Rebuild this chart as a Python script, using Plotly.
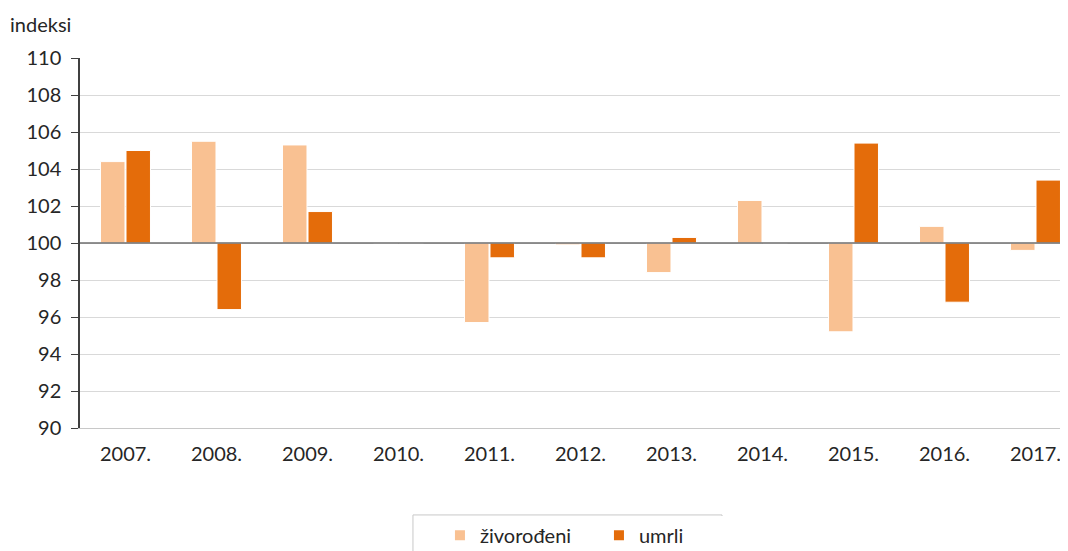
import plotly.graph_objects as go

# Indeksi (prethodna godina = 100)
years = ["2007.", "2008.", "2009.", "2010.", "2011.", "2012.",
         "2013.", "2014.", "2015.", "2016.", "2017."]
zivorodeni = [104.4, 105.5, 105.3, 100.0, 95.7, 99.9, 98.4, 102.3, 95.2, 100.9, 99.6]
umrli = [105.0, 96.4, 101.7, 100.0, 99.2, 99.2, 100.3, 100.0, 105.4, 96.8, 103.4]
base = 100

light = "#F9C192"
dark = "#E46C0A"
font = "Lato, 'Open Sans', sans-serif"

fig = go.Figure()
fig.add_trace(go.Bar(
    x=years, y=[v - base for v in zivorodeni], base=base,
    name="živorođeni", marker=dict(color=light, line=dict(color="white", width=1)),
))
fig.add_trace(go.Bar(
    x=years, y=[v - base for v in umrli], base=base,
    name="umrli", marker=dict(color=dark, line=dict(color="white", width=1)),
))

# reference line at 100
fig.add_shape(type="line", xref="paper", yref="y", x0=0, x1=1, y0=base, y1=base,
              line=dict(color="#6e6e6e", width=1.5), layer="above")

# legend frame (drawn separately so it can be wider than the entries)
fig.add_shape(type="rect", xref="paper", yref="paper", x0=0.3343, x1=0.6446,
              y0=-0.235, y1=-0.5, line=dict(color="#c8c8c8", width=1))

fig.add_annotation(text="indeksi", xref="paper", yref="paper", x=-0.0723, y=1.13,
                   xanchor="left", yanchor="top", showarrow=False,
                   font=dict(size=20, color="#262626", family=font))

fig.update_layout(
    width=1068, height=551,
    margin=dict(l=72, r=0, t=50, b=131),
    plot_bgcolor="white", paper_bgcolor="white",
    barmode="group", bargap=0.44, bargroupgap=0.04,
    font=dict(family=font, size=20, color="#262626"),
    showlegend=True,
    legend=dict(orientation="h", x=0.3614, xanchor="left", y=-0.237, yanchor="top",
                borderwidth=0, font=dict(size=20),
                entrywidth=114, itemsizing="constant"),
    xaxis=dict(range=[-0.5, 10.445], showgrid=False, showline=True, linecolor="#c8c8c8",
               linewidth=1, ticks="", tickfont=dict(size=20), ticklabelstandoff=8),
    yaxis=dict(range=[90, 110], dtick=2, showgrid=True, gridcolor="#d9d9d9", gridwidth=1,
               showline=True, linecolor="#404040", linewidth=1.5,
               ticks="outside", ticklen=7, tickcolor="#404040", zeroline=False,
               tickfont=dict(size=20), ticklabelstandoff=6),
)

fig.write_html("out.html")
